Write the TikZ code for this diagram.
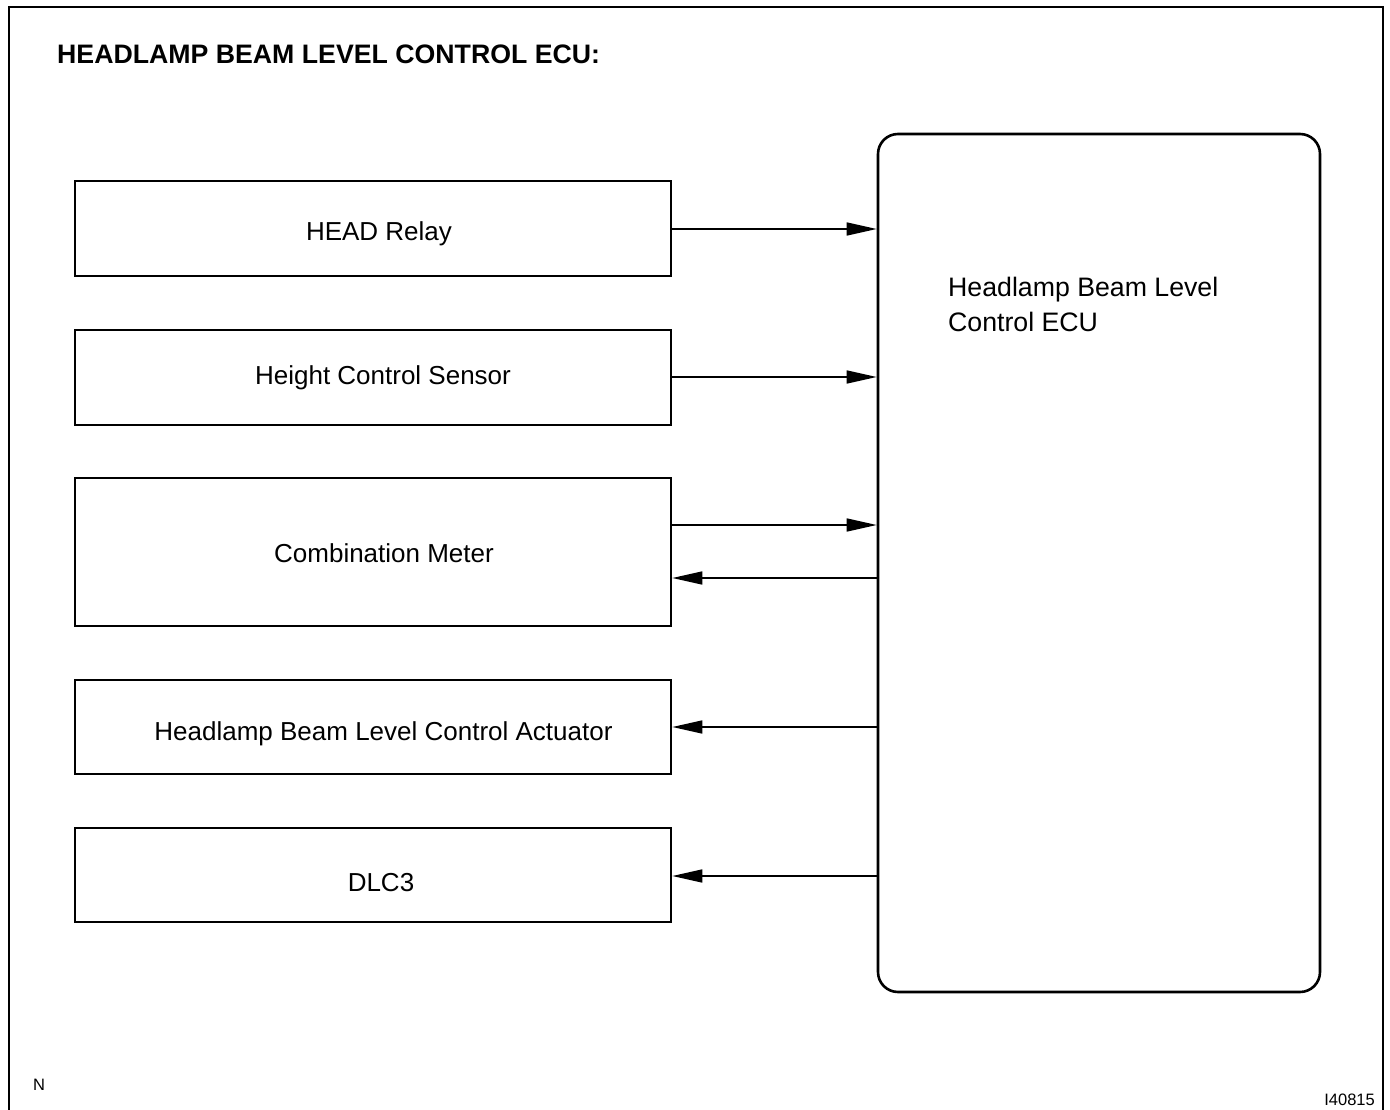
\documentclass[tikz,border=0pt]{standalone}
\usepackage{fontspec}
\setmainfont{Liberation Sans}
\usetikzlibrary{arrows.meta}
\begin{document}
\begin{tikzpicture}[x=1pt,y=-1pt,
  blk/.style={draw, line width=2.6pt, minimum width=596pt, inner sep=0pt},
  ecubox/.style={draw, line width=2.6pt, rounded corners=20pt, minimum width=442pt, minimum height=858pt, inner sep=0pt},
  sig/.style={line width=1.6pt, -{Triangle[length=30pt,width=13pt]}},
  txt/.style={inner sep=0pt, font=\fontsize{26}{30}\selectfont},
  bigtxt/.style={inner sep=0pt, font=\fontsize{26.7}{30}\selectfont},
  small/.style={inner sep=0pt, font=\fontsize{16.5}{18}\selectfont}]
\useasboundingbox (0,0) rectangle (1390,1110);
% outer frame (open at the bottom)
\draw[line width=2.6pt] (9,1110) -- (9,7) -- (1383,7) -- (1383,1110);
% title
\node[bigtxt, anchor=base west, font=\fontsize{26.7}{30}\selectfont\bfseries] (title) at (57,64) {HEADLAMP BEAM LEVEL CONTROL ECU:};
% left boxes
\node[blk, minimum height=95pt] (head) at (373,228.5) {};
\node[blk, minimum height=95pt] (hcs) at (373,377.5) {};
\node[blk, minimum height=148pt] (cm) at (373,552) {};
\node[blk, minimum height=94pt] (act) at (373,727) {};
\node[blk, minimum height=94pt] (dlc) at (373,875) {};
\node[txt, anchor=base] (headt) at (379,241) {HEAD Relay};
\node[txt, anchor=base] (hcst) at (383,384) {Height Control Sensor};
\node[txt, anchor=base] (cmt) at (384,562) {Combination Meter};
\node[txt, anchor=base] (actt) at (383.5,740) {Headlamp Beam Level Control Actuator};
\node[txt, anchor=base] (dlct) at (381,891) {DLC3};
% ECU
\node[ecubox] (ecu) at (1099,563) {};
\node[bigtxt, anchor=base west] (ecut1) at (948,297) {Headlamp Beam Level};
\node[bigtxt, anchor=base west] (ecut2) at (948,331) {Control ECU};
% connectors
\coordinate (y1) at (0,229);
\coordinate (y2) at (0,377);
\coordinate (y3) at (0,525);
\coordinate (y4) at (0,578);
\coordinate (y5) at (0,727);
\coordinate (y6) at (0,876);
\draw[sig] (head.east |- y1) -- (ecu.west |- y1);
\draw[sig] (hcs.east |- y2) -- (ecu.west |- y2);
\draw[sig] (cm.east |- y3) -- (ecu.west |- y3);
\draw[sig] (ecu.west |- y4) -- (cm.east |- y4);
\draw[sig] (ecu.west |- y5) -- (act.east |- y5);
\draw[sig] (ecu.west |- y6) -- (dlc.east |- y6);
% corner labels
\node[small, anchor=base west] (nlab) at (33,1090) {N};
\node[small, anchor=base east] (code) at (1375,1105) {I40815};
\end{tikzpicture}
\end{document}
